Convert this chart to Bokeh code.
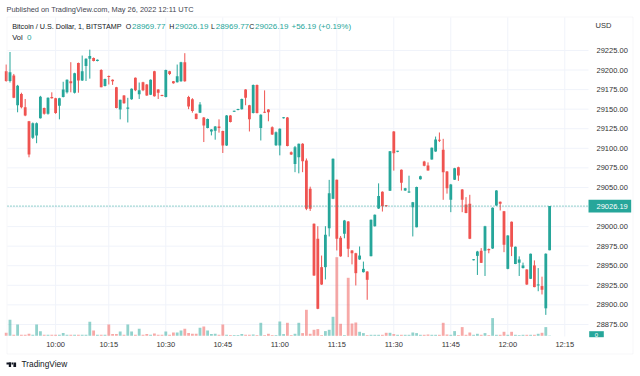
from bokeh.plotting import figure
from bokeh.models import (Range1d, FixedTicker, NumeralTickFormatter, Label,
                          BoxAnnotation, ColumnDataSource)
from bokeh.embed import file_html
from bokeh.resources import INLINE

# ---- data: BTC/USD 1-minute bars, Bitstamp, 26 May 2022 ----
opens = [29198.5, 29186, 29193, 29155, 29169.5, 29152.5, 29134.5, 29113.5, 29116.5, 29138.5,
         29151.5, 29144, 29165.5, 29164, 29154.5, 29165.5, 29171.5, 29185.5, 29171, 29209,
         29186.5, 29205, 29214.5, 29215.5, 29211.5, 29200, 29179.5, 29192.5, 29187.5, 29178,
         29149.5, 29167.5, 29150.5, 29162.5, 29190, 29169, 29184.5, 29181.5, 29168.5, 29198.5,
         29175, 29168, 29165.5, 29198.5, 29185.5, 29184.5, 29185.5, 29210, 29165.5, 29162.5,
         29144, 29145.5, 29139.5, 29126, 29121.5, 29122.5, 29128, 29122, 29103.5, 29142,
         29146.7, 29149, 29150, 29175, 29155, 29145, 29181, 29126, 29146.5, 29149.5,
         29127, 29104, 29103.6, 29138.5, 29139.5, 29095, 29080, 29088.5, 29105.8, 29084.4,
         29048.2, 29003.5, 28984.4, 28948.2, 28948.2, 28998, 29035.5, 29059.7, 28985.7, 28990.8,
         29006.5, 28969.5, 28966, 28958, 28941.8, 28942.6, 28962.2, 29000.5, 29023, 29044.6,
         29027, 29045.9, 29121.4, 29095.5, 29072.5, 29046, 29043.5, 29024.8, 28999.2, 29060.5,
         29083.1, 29078, 29085.7, 29095.9, 29110.8, 29098.1, 29070.4, 29034.2, 29059.7, 29075.9,
         29047.4, 29028.2, 29029.1, 28957, 28962.6, 28969, 28969, 28971.5, 28971.9, 29026.9,
         29031.6, 29019.7, 28946, 29006.2, 28952.2, 28953.8, 28947, 28945.2, 28933.3, 28950.4,
         28924.8, 28924, 28895.6, 28969.77]
highs = [29207, 29223, 29195, 29181, 29171, 29163, 29135, 29133, 29133, 29167,
         29152, 29165, 29171.5, 29164.5, 29164.5, 29185, 29188, 29210, 29196.5, 29209.5,
         29218.5, 29215, 29226, 29216, 29213.5, 29201, 29189, 29193, 29188, 29178.5,
         29162, 29168, 29164.5, 29176.5, 29190.5, 29184, 29185, 29182, 29188, 29199,
         29175.5, 29168.5, 29200.5, 29199, 29186, 29207, 29210.5, 29221.5, 29167, 29164,
         29144.5, 29159, 29140, 29138, 29124.5, 29128.5, 29137, 29122.5, 29142.5, 29142.5,
         29148, 29150.5, 29163.5, 29175.5, 29155.5, 29181.5, 29181.5, 29143.5, 29174, 29150,
         29128, 29121.5, 29125.5, 29140, 29140, 29096, 29103, 29106, 29106.5, 29087,
         29051, 29004, 29000.5, 28963, 29000.5, 29059.7, 29087, 29060, 28988, 29008.5,
         29007, 28970, 28966.5, 28974.6, 28955.3, 28943, 29009, 29015.5, 29055.2, 29045,
         29027.5, 29096.5, 29122, 29096.8, 29073, 29049.5, 29065, 29031.5, 29051, 29065,
         29084, 29082, 29101, 29115, 29120.2, 29112.1, 29071, 29054.5, 29075, 29076.5,
         29048, 29037.6, 29040.6, 28958.5, 28969, 28972.5, 29001, 28972, 29024.5, 29046.5,
         29032, 29020, 28989, 29006.5, 28974.5, 28962, 28954, 28945.5, 28965.5, 28956.8,
         28947, 28936, 28965.8, 29026.19]
lows = [29185, 29184, 29164, 29146, 29151, 29141, 29088.5, 29112, 29106.5, 29138,
        29143, 29143, 29163.5, 29144, 29137, 29165, 29170, 29171.5, 29170, 29171,
        29186, 29186, 29189, 29211, 29211, 29178, 29179, 29181.5, 29181, 29151,
        29137, 29157, 29133, 29162, 29173, 29163, 29173, 29167, 29168, 29166,
        29163, 29166.5, 29165, 29193.5, 29182.5, 29184, 29185, 29185, 29150, 29145.5,
        29137, 29145, 29108, 29125.5, 29116.5, 29111, 29120, 29094, 29103, 29133,
        29146.5, 29148.5, 29149.5, 29155, 29121.5, 29144.5, 29144.5, 29110, 29145, 29134.5,
        29117, 29103, 29091, 29138, 29102.5, 29091.5, 29069.5, 29068, 29069.5, 29021,
        29020, 28937, 28894.5, 28925.5, 28932.5, 28987.4, 29035, 28969.5, 28961.5, 28985,
        28961, 28951.7, 28924.8, 28957.5, 28941.3, 28906.5, 28962, 29000, 29022.5, 29019.2,
        29025.5, 29045.5, 29071.5, 29095, 29046, 29045.5, 29043, 28987.4, 28999, 29060,
        29077, 29071.5, 29085.5, 29095.5, 29108, 29034.2, 29042.1, 29018.4, 29059.5, 29058.4,
        29018.4, 29017, 28984, 28956.8, 28938.2, 28953.5, 28936.9, 28965.9, 28971.5, 29026.5,
        29020.6, 28967.3, 28945.5, 28962.3, 28952, 28936.9, 28946.5, 28925.5, 28933, 28922.5,
        28917.4, 28913.3, 28887.2, 28969.77]
closes = [29186, 29197, 29164.5, 29180, 29152.5, 29142, 29092, 29132, 29132, 29166,
          29144, 29164.5, 29164, 29145, 29164, 29175, 29187.5, 29183, 29196, 29186.5,
          29198.5, 29214.5, 29218, 29211.5, 29213, 29178, 29188.5, 29191, 29185.5, 29151.5,
          29162, 29157.5, 29152, 29176, 29174, 29174, 29174, 29167.5, 29187.5, 29166.5,
          29171, 29166.8, 29200, 29195, 29183, 29192, 29210, 29185.5, 29153.5, 29147.5,
          29137.5, 29156, 29129, 29137.5, 29124, 29128, 29126, 29103.5, 29142, 29133.5,
          29148, 29150.3, 29163, 29164.5, 29137, 29181, 29145, 29143, 29145.3, 29146,
          29117.5, 29120.5, 29125, 29139.3, 29103, 29092, 29101.5, 29105.8, 29083.6, 29022.7,
          29022.7, 28937.5, 28895, 28926, 28989.5, 29042.7, 29086.6, 28984.4, 28962, 29007.8,
          28971.6, 28966, 28940.5, 28963, 28946, 28932, 29008.7, 29015, 29039.1, 29026,
          29026, 29096.2, 29093.6, 29096.6, 29056, 29049, 29044.8, 29031.2, 29050.5, 29064.2,
          29077.6, 29071.7, 29100.7, 29111.2, 29109.5, 29069.5, 29049, 29053.8, 29074.6, 29065.3,
          29034.2, 29017.2, 28984.4, 28958, 28968.2, 28953.7, 29000.5, 28969.9, 29024, 29046,
          29029.1, 28976.8, 28988.6, 28974.2, 28974.2, 28958, 28950.4, 28926, 28965.2, 28922.7,
          28926, 28919.3, 28965.4, 29026.19]
volumes = [3, 16, 1, 11.3, 1, 1, 2, 1, 11.3, 4.5,
           1, 1, 1, 1, 1, 2.7, 1, 1, 1, 1,
           1, 1, 14, 5.3, 1, 1, 1, 11.3, 1.7, 1.7,
           4.3, 1, 11.3, 4.3, 1, 7, 1, 1.7, 1, 2.3,
           1, 1, 4.3, 1, 3.3, 3.3, 5.3, 7, 2.7, 2,
           2, 8, 9.3, 5.3, 1.7, 2, 1, 11.3, 1, 0.7,
           0.7, 0.7, 1.7, 1, 1, 1.3, 0.7, 13, 0.7, 2,
           0.7, 0.7, 14.3, 1.7, 13, 0.7, 2, 13, 2.7, 26,
           2, 6, 6.7, 0.7, 4.7, 6, 19, 78.6, 12, 0.7,
           58, 12.3, 13.3, 4, 2.7, 0.7, 1, 1, 1, 1,
           3, 3, 1.7, 1, 1, 1, 1, 3.3, 2.7, 1,
           1, 1.3, 1, 1, 1, 13, 1.3, 1, 4.7, 0.7,
           8.7, 1, 3.3, 1, 2, 1, 2.7, 0.7, 17.7, 1,
           1, 4, 1, 4, 1, 0.7, 1, 1, 1, 1,
           2, 3, 8.7, 0.3]
time_tick_bars = [13, 27, 42, 57, 72, 87, 102, 117, 132, 147]
time_tick_labels = ["10:00", "10:15", "10:30", "10:45", "11:00", "11:15",
                    "11:30", "11:45", "12:00", "12:15"]
price_ticks = [28875, 28900, 28925, 28950, 28975, 29000, 29025, 29050, 29075,
               29100, 29125, 29150, 29175, 29200, 29225]
last_price = 29026.19

UP = "#26a69a"
DOWN = "#ef5350"
FONT = "Liberation Sans"
DARK = "#131722"
GRID = "#f0f3fa"

# price pane edges (bar index / price) inside the full-size frame
PANE_L, PANE_R = 0.34, 153.24
PANE_B, PANE_T = 28859.6, 29267.0

n = len(opens)
bars = list(range(n))
up = [c >= o for o, c in zip(opens, closes)]
body_bottom = [min(o, c) for o, c in zip(opens, closes)]
body_top = [max(max(o, c), b + 1.3) for o, c, b in zip(opens, closes, body_bottom)]
src = ColumnDataSource(dict(
    x=bars, high=highs, low=lows, top=body_top, bottom=body_bottom, vol=volumes,
    color=[UP if u else DOWN for u in up],
))

p = figure(width=640, height=376, output_backend="svg", toolbar_location=None,
           x_range=Range1d(-1.5, 166.92), y_range=Range1d(28808.5, 29288.8),
           y_axis_location="right", min_border=0)
p.extra_y_ranges = {"vol": Range1d(-40.7, 335.3)}
p.outline_line_color = None
p.background_fill_color = "white"
p.border_fill_color = "white"
p.grid.visible = False

# axes, pinned to the pane edges
p.xaxis.ticker = FixedTicker(ticks=time_tick_bars)
p.xaxis.major_label_overrides = {t: l for t, l in zip(time_tick_bars, time_tick_labels)}
p.xaxis.fixed_location = PANE_B
p.yaxis.ticker = FixedTicker(ticks=price_ticks)
p.yaxis.formatter = NumeralTickFormatter(format="0.00")
p.yaxis.fixed_location = PANE_R
for ax in (p.xaxis[0], p.yaxis[0]):
    ax.axis_line_color = None
    ax.major_tick_line_color = None
    ax.minor_tick_line_color = None
    ax.major_tick_in = 0
    ax.major_tick_out = 0
    ax.major_label_text_font = FONT
    ax.major_label_text_font_size = "7.5px"
    ax.major_label_text_color = "#333333"
p.xaxis.major_label_standoff = 4
p.yaxis.major_label_standoff = 8

# grid lines limited to the price pane
p.segment(x0=PANE_L, x1=PANE_R, y0=price_ticks, y1=price_ticks, line_color=GRID, line_width=1)
p.segment(x0=time_tick_bars, x1=time_tick_bars, y0=PANE_B, y1=PANE_T, line_color=GRID,
          line_width=1)

# volume, wicks, bodies
p.vbar(x="x", top="vol", bottom=0, width=0.74, fill_color="color", fill_alpha=0.5,
       line_color=None, y_range_name="vol", source=src)
p.segment(x0="x", y0="low", x1="x", y1="high", line_color="color", line_width=1, source=src)
p.vbar(x="x", top="top", bottom="bottom", width=0.74, fill_color="color",
       line_color=None, source=src)

# last price dotted line
p.segment(x0=PANE_L, x1=PANE_R, y0=last_price, y1=last_price, line_color=UP,
          line_dash="1 2", line_width=1)


def lab(text, sx, page_y, size="7.5px", color=DARK, baseline="middle", align="left",
        style="normal"):
    p.add_layout(Label(x=sx, y=376 - page_y, x_units="screen", y_units="screen", text=text,
                       text_font=FONT, text_font_size=size, text_color=color,
                       text_baseline=baseline, text_align=align, text_font_style=style))


def box(l, r, t, b, color, fill_alpha=1.0, line_color=None):
    p.add_layout(BoxAnnotation(left=l, right=r, top=376 - t, bottom=376 - b,
                               left_units="screen", right_units="screen",
                               top_units="screen", bottom_units="screen",
                               fill_color=color, fill_alpha=fill_alpha,
                               line_color=line_color, line_width=1))


# outer frame
box(6.5, 632.5, 16.5, 353.5, "white", fill_alpha=0, line_color="#e0e3eb")

lab("Published on TradingView.com, May 26, 2022 12:11 UTC", 6, 8.6, size="7.4px",
    color="#434651")
lab("Bitcoin / U.S. Dollar, 1, BITSTAMP", 11.7, 25.7, size="7.2px")
lab("O", 125.2, 25.7, size="7px")
lab("28969.77", 131.5, 25.7, size="8px", color=UP)
lab("H", 168.8, 25.7, size="7px")
lab("29026.19", 174.5, 25.7, size="8px", color=UP)
lab("L", 210.6, 25.7, size="7px")
lab("28969.77", 215.2, 25.7, size="8px", color=UP)
lab("C", 248.8, 25.7, size="7px")
lab("29026.19", 254.5, 25.7, size="8px", color=UP)
lab("+56.19 (+0.19%)", 291, 25.7, size="8px", color=UP)
lab("Vol", 11.7, 36.8, size="7.5px")
lab("0", 26.5, 36.8, size="8px", color=UP)
lab("USD", 595, 25, size="7.5px", color="#333333")

# last price tag on the price scale
p.add_layout(BoxAnnotation(left=PANE_R, right=164.47, top=last_price + 8.1,
                           bottom=last_price - 8.1, fill_color=UP, fill_alpha=1,
                           line_color=None))
p.add_layout(Label(x=PANE_R + 2.1, y=last_price, text="29026.19", text_font=FONT,
                   text_font_size="7.5px", text_color="white", text_baseline="middle",
                   text_align="left"))
# last volume tag
box(588.7, 603.3, 330.7, 336.7, UP)
lab("0", 596, 334, size="6px", color="white", align="center")

# TradingView logo mark and name
box(6, 10.6, 362, 363.9, DARK)
box(8.3, 10.6, 362, 366.6, DARK)
box(11.1, 12.6, 362, 363.9, DARK)
box(12.9, 15.6, 362, 366.6, DARK)
lab("TradingView", 21, 363.6, size="8.3px", color=DARK)

open("out.html", "w").write(file_html(p, INLINE))
